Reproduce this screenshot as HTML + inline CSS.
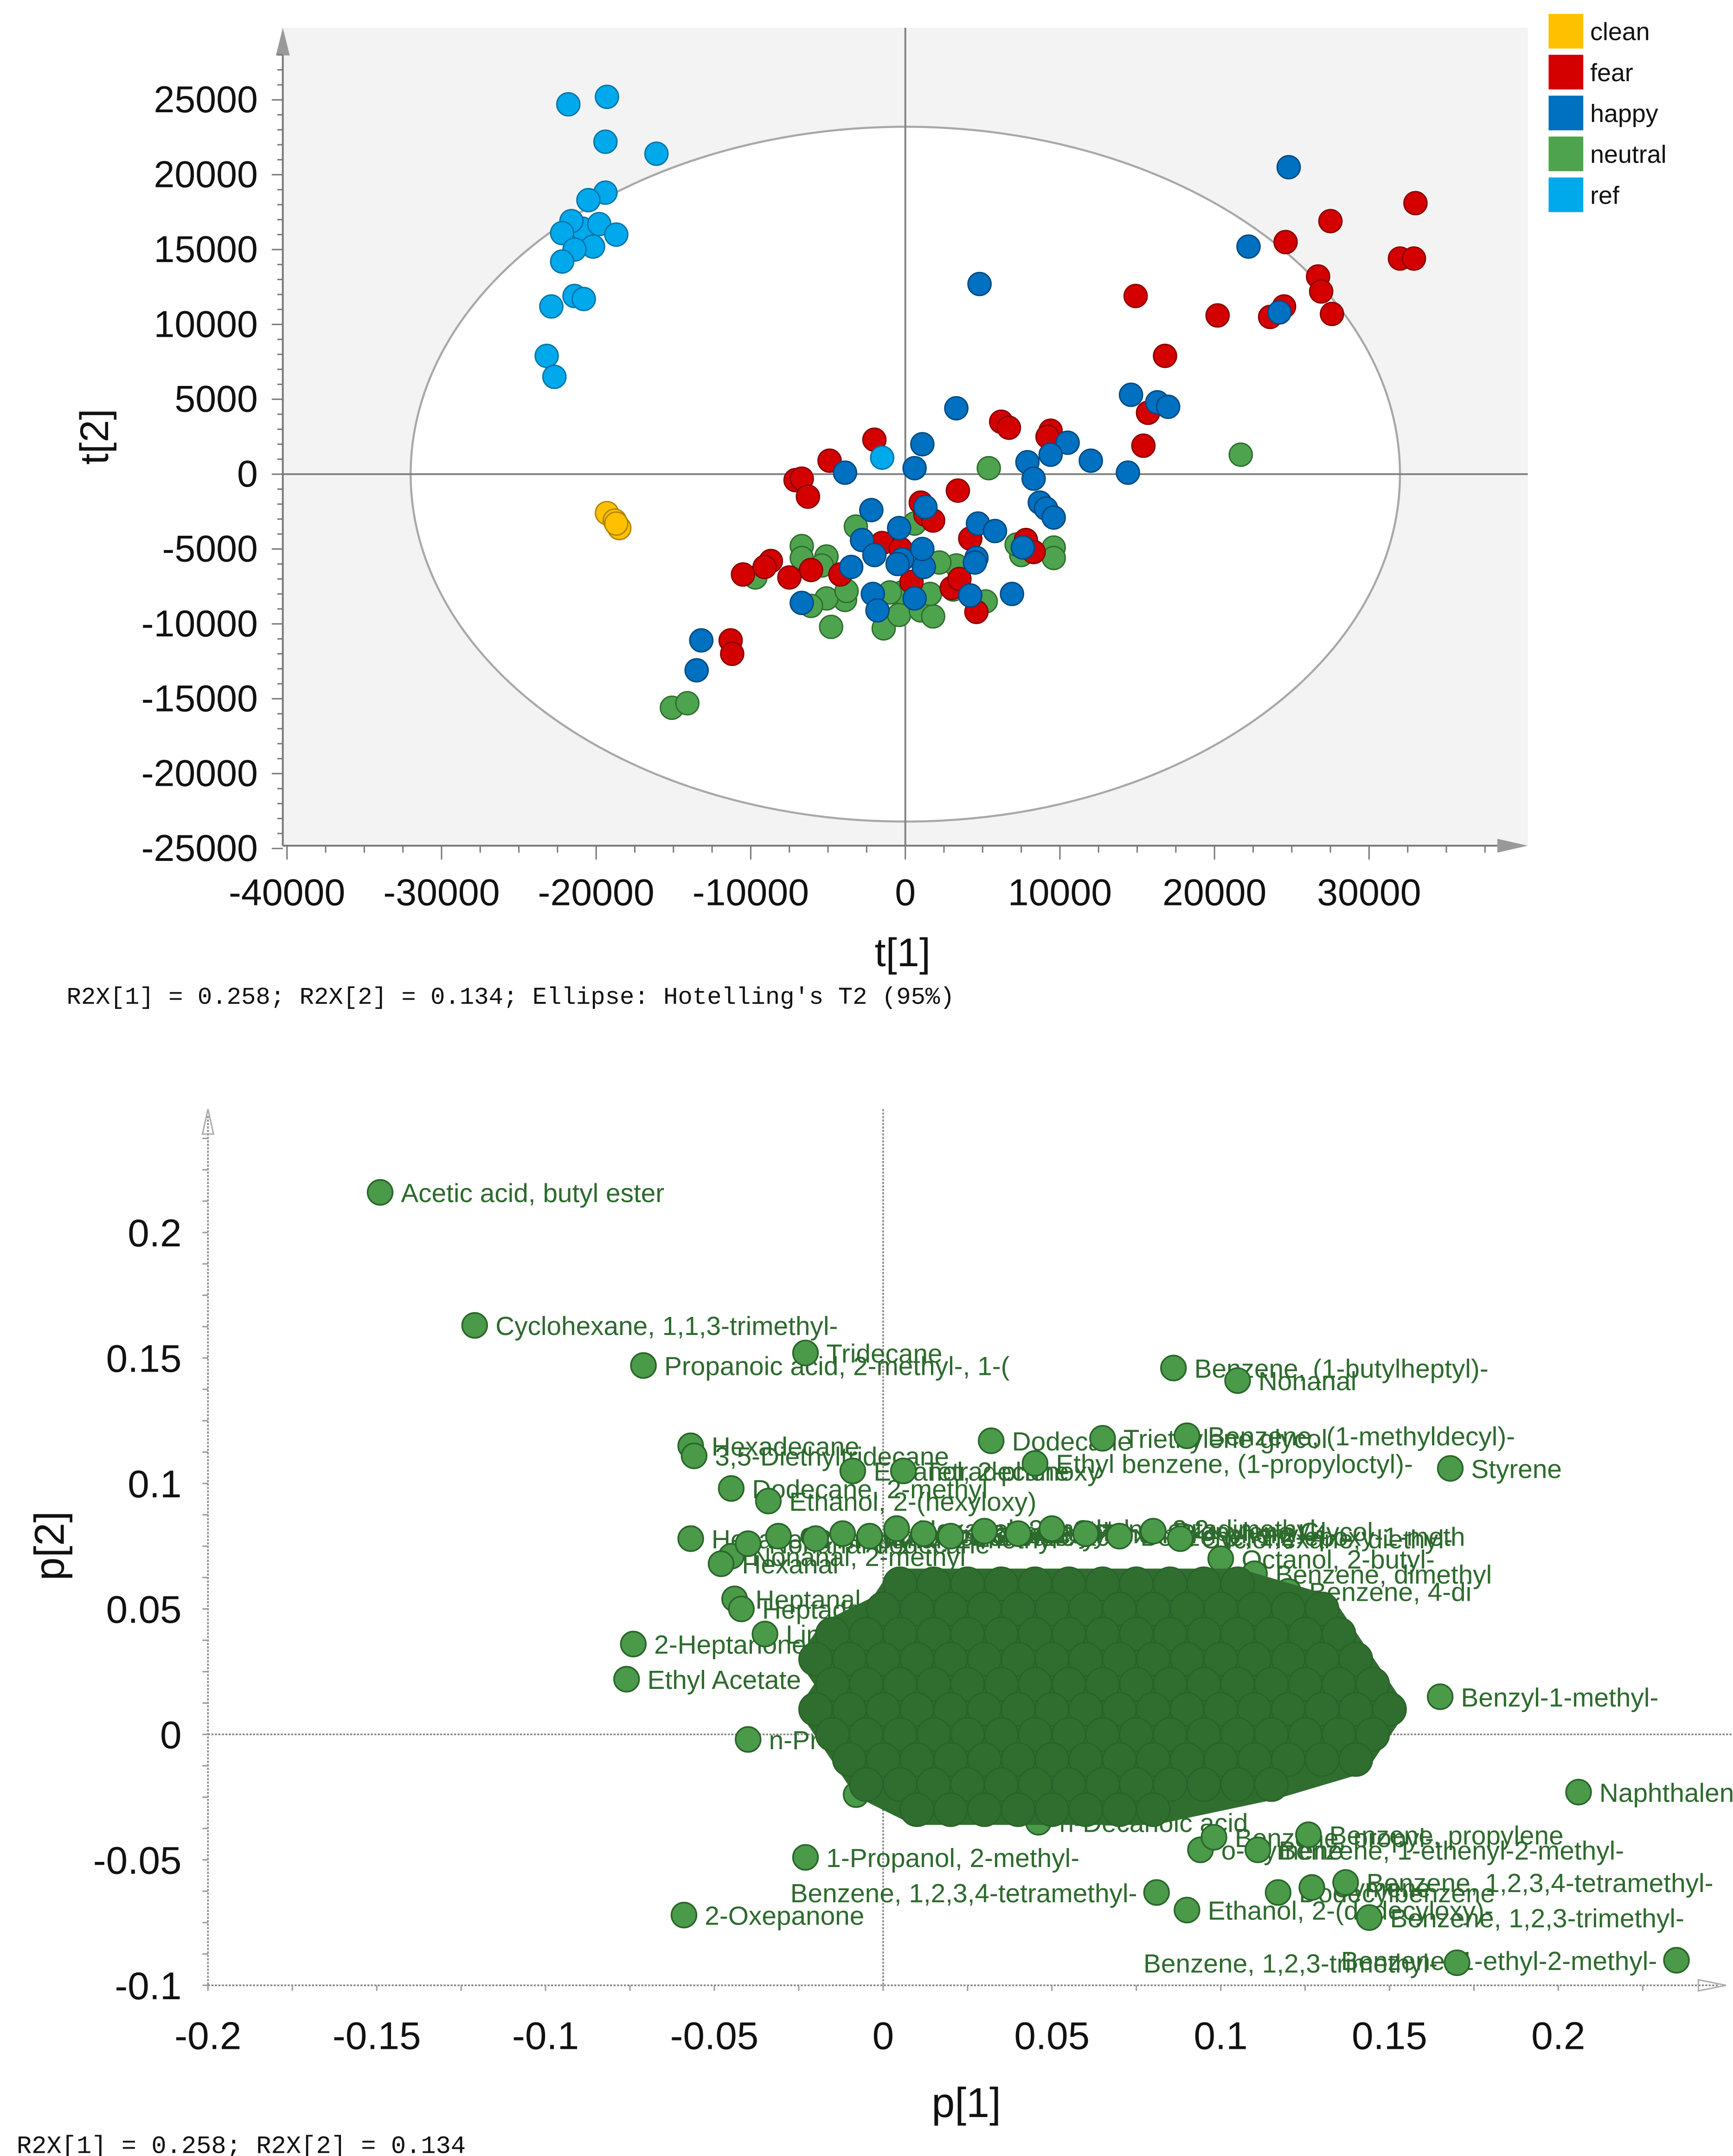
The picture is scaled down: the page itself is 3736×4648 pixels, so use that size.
<!DOCTYPE html>
<html><head><meta charset="utf-8"><style>
html,body{margin:0;padding:0;background:#fff}
svg{display:block}
text{font-family:"Liberation Sans",sans-serif}
.mono{font-family:"Liberation Mono",monospace}
</style></head><body>
<svg id="s" xmlns="http://www.w3.org/2000/svg" width="3736" height="4648" viewBox="0 0 1250 1555.1" preserveAspectRatio="none">
<g id="top"></g>
<g id="bot"></g>
</svg>
<script>
// ---------- Score plot data ----------
const groups = ["clean","fear","happy","neutral","ref"];
const groupColors = ["#ffc000","#d40000","#0070c0","#4ea44e","#00a8ec"];
const groupStroke = ["#b08400","#8a0000","#004a80","#2e6e2e","#0075a8"];
const cleanX=[-19300,-18800,-18500,-18700];
const cleanY=[-2600,-3100,-3600,-3300];
const refX=[-21800,-19300,-19400,-16100,-19400,-20500,-20900,-19800,-21600,-22200,-18700,-20200,-21400,-22200,-21400,-20800,-22900,-23200,-22700,-1500];
const refY=[24700,25200,22200,21400,18800,18300,16400,16700,16900,16100,16000,15200,15000,14200,11900,11700,11200,7900,6500,1100];
const fearX=[33000,27500,24600,32000,32900,26700,26900,24500,27600,23600,20200,14900,16800,15700,15400,6200,6700,9400,-2000,-4900,-7100,-6700,-6300,1000,3400,1300,1800,-1500,-300,4200,7800,8300,-6100,-8700,-9100,-10500,-7500,-4200,400,3000,3500,4600,-11300,-11200,9200];
const fearY=[18100,16900,15500,14400,14400,13200,12200,11200,10700,10500,10600,11900,7900,4100,1900,3500,3100,2900,2300,900,-400,-300,-1500,-1900,-1100,-2700,-3100,-4600,-5000,-4300,-4400,-5200,-6400,-5800,-6200,-6700,-6900,-6700,-7200,-7600,-7000,-9200,-11100,-12000,2500];
const happyX=[24800,22200,4800,24200,3300,14600,16300,17000,1100,10500,12000,14400,7900,9400,8300,-3900,600,-2200,1300,-400,-2800,8700,9100,9600,7600,4700,5800,4600,1200,-200,-2000,-3500,-2100,-1800,600,4200,6900,-6700,-13200,-13500,-500,1100,4500];
const happyY=[20500,15200,12700,10800,4400,5300,4800,4500,2000,2100,900,100,800,1300,-300,100,400,-2400,-2200,-3600,-4400,-1900,-2300,-2900,-4900,-3300,-3800,-5600,-6200,-5700,-5400,-6200,-8000,-9100,-8300,-8100,-8000,-8600,-11100,-13100,-6000,-5000,-5900];
const neutralX=[21700,5400,-6700,-6700,-9700,-5100,-5400,-3200,600,3300,3100,2200,-3900,-5100,-6100,-3800,-4800,-1400,-400,1000,1800,5200,7500,9600,9600,-15100,-14100,-200,1600,-1000,7200];
const neutralY=[1300,400,-4800,-5600,-6900,-5500,-6100,-3500,-3300,-6100,-7700,-5900,-8400,-8300,-8800,-7800,-10200,-10300,-9400,-9100,-9500,-8500,-5400,-4900,-5600,-15600,-15300,-7900,-8000,-7900,-4700];
const xTicks=[-40000,-30000,-20000,-10000,0,10000,20000,30000];
const yTicks=[25000,20000,15000,10000,5000,0,-5000,-10000,-15000,-20000,-25000];
const footTop="R2X[1] = 0.258; R2X[2] = 0.134; Ellipse: Hotelling's T2 (95%)";
const ellipseRx=32000, ellipseRy=23200;

// ---------- Loading plot data ----------
const loadX=[-0.149,-0.121,-0.023,-0.071,0.086,0.105,0.032,0.065,0.090,-0.057,-0.056,-0.009,0.006,0.045,0.168,-0.045,-0.034,-0.057,-0.045,-0.044,-0.074,-0.076,-0.040,-0.023,-0.059,0.206,0.235,0.170,0.094,0.098,0.111,0.126,0.081,0.090,0.117,0.127,0.137,0.144,0.046,0.030,-0.008,0.165,-0.040,-0.031,-0.020,-0.012,-0.004,0.004,0.012,0.020,0.030,0.040,0.050,0.060,0.070,0.080,0.088,0.100,0.110,0.120,-0.042,-0.035,-0.048];
const loadY=[0.216,0.163,0.152,0.147,0.146,0.141,0.117,0.118,0.119,0.115,0.111,0.105,0.105,0.108,0.106,0.098,0.093,0.078,0.071,0.054,0.036,0.022,-0.002,-0.049,-0.072,-0.023,-0.090,-0.091,-0.046,-0.041,-0.046,-0.040,-0.063,-0.070,-0.063,-0.061,-0.059,-0.073,-0.035,-0.029,-0.024,0.015,0.076,0.079,0.078,0.080,0.079,0.082,0.080,0.079,0.081,0.080,0.082,0.080,0.079,0.081,0.078,0.070,0.064,0.057,0.050,0.040,0.068];
const loadLabels=["Acetic acid, butyl ester","Cyclohexane, 1,1,3-trimethyl-","Tridecane","Propanoic acid, 2-methyl-, 1-(","Benzene, (1-butylheptyl)-","Nonanal","Dodecane","Triethylene glycol","Benzene, (1-methyldecyl)-","Hexadecane","3,5-Diethyltridecane","Ethanol, 2-phenoxy","Tetradecane","Ethyl benzene, (1-propyloctyl)-","Styrene","Dodecane, 2-methyl","Ethanol, 2-(hexyloxy)","Hexane, 2-methyl","Nonanal, 2-methyl","Heptanal","2-Heptanone","Ethyl Acetate","n-Propyl acetate","1-Propanol, 2-methyl-","2-Oxepanone","Naphthalene","Benzene, 1-ethyl-2-methyl-","Benzene, 1,2,3-trimethyl-","o-Cymene","Benzene, propyl-","Benzene, 1-ethenyl-2-methyl-","Benzene, propylene","Benzene, 1,2,3,4-tetramethyl-","Ethanol, 2-(dodecyloxy)-","Dodecylbenzene","Cymene","Benzene, 1,2,3,4-tetramethyl-","Benzene, 1,2,3-trimethyl-","n-Decanoic acid","Methyl ester","Isopropyl alcohol","Benzyl-1-methyl-","Nonanal dodecane","Octanol","Propanal, 2-methyl","Decane, 2,3-dimethyl","Ethanol, 2-butoxy","Hexanol, 3-methyl-, aceta","Undecane","Butanoic acid","Pentanol","Ethyl hexanol","Octane, 2,2-dimethyl-","Phenol, 4-phenyl-4-","Benzene, 1,2-epoxy-1-meth","Propylene Glycol","Cyclohexane, diethyl-","Octanol, 2-butyl-","Benzene, dimethyl","Benzene, 4-di","Heptadecane","Limonene","Hexanal"];
const labelLeft=[26,27,32];  // indices whose label sits left of the point
const blobRowY=[0.06,0.05,0.04,0.03,0.02,0.01,0.0,-0.01,-0.02,-0.03];
const blobRowX=[
 [0.005,0.015,0.025,0.035,0.045,0.055,0.065,0.075,0.085,0.095,0.105],
 [0.0,0.01,0.02,0.03,0.04,0.05,0.06,0.07,0.08,0.09,0.10,0.11,0.12,0.13],
 [-0.015,-0.005,0.005,0.015,0.025,0.035,0.045,0.055,0.065,0.075,0.085,0.095,0.105,0.115,0.125,0.135],
 [-0.02,-0.01,0.0,0.01,0.02,0.03,0.04,0.05,0.06,0.07,0.08,0.09,0.10,0.11,0.12,0.13,0.14],
 [-0.015,-0.005,0.005,0.015,0.025,0.035,0.045,0.055,0.065,0.075,0.085,0.095,0.105,0.115,0.125,0.135,0.145],
 [-0.02,-0.01,0.0,0.01,0.02,0.03,0.04,0.05,0.06,0.07,0.08,0.09,0.10,0.11,0.12,0.13,0.14,0.15],
 [-0.015,-0.005,0.005,0.015,0.025,0.035,0.045,0.055,0.065,0.075,0.085,0.095,0.105,0.115,0.125,0.135,0.145],
 [-0.01,0.0,0.01,0.02,0.03,0.04,0.05,0.06,0.07,0.08,0.09,0.10,0.11,0.12,0.13,0.14],
 [-0.005,0.005,0.015,0.025,0.035,0.045,0.055,0.065,0.075,0.085,0.095,0.105,0.115],
 [0.01,0.02,0.03,0.04,0.05,0.06,0.07,0.08]
];
const pxTicks=[-0.2,-0.15,-0.1,-0.05,0,0.05,0.1,0.15,0.2];
const pyTicks=[0.2,0.15,0.1,0.05,0,-0.05,-0.1];
const footBot="R2X[1] = 0.258; R2X[2] = 0.134";

const NS="http://www.w3.org/2000/svg";
function mk(parent,tag,attrs,txt){const e=document.createElementNS(NS,tag);for(const k in attrs)e.setAttribute(k,attrs[k]);if(txt!==undefined)e.textContent=txt;parent.appendChild(e);return e;}

// ===== Top score plot =====
const T=document.getElementById('top');
const sx=v=>653+v*(111.5/10000);
const sy=v=>342-v*(54/5000);
let e;
e=mk(T,'rect',{x:203,y:20,width:899,height:590,fill:'#f3f3f3'});


e=mk(T,'ellipse',{cx:sx(0),cy:sy(0),rx:sx(ellipseRx)-sx(0),ry:sy(0)-sy(ellipseRy),fill:'#fff',stroke:'#a8a8a8','stroke-width':1.5});


mk(T,'line',{x1:sx(0),y1:20,x2:sx(0),y2:610,stroke:'#808080','stroke-width':1.3});
mk(T,'line',{x1:203,y1:sy(0),x2:1102,y2:sy(0),stroke:'#808080','stroke-width':1.3});
e=mk(T,'line',{x1:204,y1:28,x2:204,y2:610,stroke:'#777','stroke-width':1.3});


mk(T,'polygon',{points:'199,40 204,20 209,40',fill:'#999'});
e=mk(T,'line',{x1:204,y1:610,x2:1092,y2:610,stroke:'#777','stroke-width':1.3});


mk(T,'polygon',{points:'1080,605 1102,610 1080,615',fill:'#999'});
for(let v=-25000;v<=28000;v+=1000){const y=sy(v);mk(T,'line',{x1:v%5000===0?196:200,y1:y,x2:204,y2:y,stroke:'#777','stroke-width':1});}
for(let v=-40000;v<=38000;v+=2500){const x=sx(v);mk(T,'line',{x1:x,y1:610,x2:x,y2:v%10000===0?620:615,stroke:'#777','stroke-width':1});}
yTicks.forEach(v=>{e=mk(T,'text',{x:186,y:sy(v)+9,'text-anchor':'end','font-size':27,fill:'#111'},String(v));

});
xTicks.forEach(v=>{e=mk(T,'text',{x:sx(v),y:653,'text-anchor':'middle','font-size':27,fill:'#111'},String(v));

});
e=mk(T,'text',{x:0,y:0,transform:'translate(78,315) rotate(-90)','text-anchor':'middle','font-size':29,fill:'#111'},'t[2]');


e=mk(T,'text',{x:651,y:697,'text-anchor':'middle','font-size':29,fill:'#111'},'t[1]');


e=mk(T,'text',{x:48,y:724,'font-size':17.5,fill:'#111',class:'mono'},footTop);


const gx=[cleanX,fearX,happyX,neutralX,refX], gy=[cleanY,fearY,happyY,neutralY,refY];
[3,1,2,4,0].forEach(g=>{gx[g].forEach((v,i)=>{
 e=mk(T,'circle',{cx:sx(v),cy:sy(gy[g][i]),r:8.3,fill:groupColors[g],stroke:groupStroke[g],'stroke-width':1});
 
 
});});
groups.forEach((g,i)=>{
 const y=10+i*29.5;
 e=mk(T,'rect',{x:1117,y:y,width:25,height:25,fill:groupColors[i]});
 
 
 e=mk(T,'text',{x:1147,y:y+19,'font-size':18,fill:'#111'},g);
 
 
});

// ===== Bottom loading plot =====
const B=document.getElementById('bot');
const px=v=>637+v*2435;
const py=v=>1251-v*1810;
e=mk(B,'line',{x1:150,y1:805,x2:150,y2:1432,stroke:'#888','stroke-width':1.2,'stroke-dasharray':'1.5,1'});


mk(B,'polygon',{points:'146,818 150,800 154,818',fill:'none',stroke:'#aaa','stroke-width':1});
e=mk(B,'line',{x1:150,y1:1432,x2:1240,y2:1432,stroke:'#888','stroke-width':1.2,'stroke-dasharray':'1.5,1'});


mk(B,'polygon',{points:'1225,1428 1245,1432 1225,1436',fill:'none',stroke:'#aaa','stroke-width':1});
mk(B,'line',{x1:px(0),y1:800,x2:px(0),y2:1432,stroke:'#888','stroke-width':1.2,'stroke-dasharray':'1.5,1'});
mk(B,'line',{x1:150,y1:py(0),x2:1250,y2:py(0),stroke:'#888','stroke-width':1.2,'stroke-dasharray':'1.5,1'});
for(let v=-0.1;v<=0.24;v+=0.0125){const y=py(v);mk(B,'line',{x1:146,y1:y,x2:150,y2:y,stroke:'#999','stroke-width':1});}
for(let v=-0.2;v<=0.245;v+=0.025){const x=px(v);mk(B,'line',{x1:x,y1:1432,x2:x,y2:1436,stroke:'#999','stroke-width':1});}
pyTicks.forEach(v=>{e=mk(B,'text',{x:131,y:py(v)+10,'text-anchor':'end','font-size':28,fill:'#111'},String(v));

});
pxTicks.forEach(v=>{e=mk(B,'text',{x:px(v),y:1478,'text-anchor':'middle','font-size':28,fill:'#111'},String(v));

});
e=mk(B,'text',{x:0,y:0,transform:'translate(46,1115) rotate(-90)','text-anchor':'middle','font-size':30,fill:'#111'},'p[2]');


e=mk(B,'text',{x:697,y:1527,'text-anchor':'middle','font-size':30,fill:'#111'},'p[1]');


e=mk(B,'text',{x:12,y:1553,'font-size':18,fill:'#111',class:'mono'},footBot);


loadX.forEach((v,i)=>{
 const left=labelLeft.indexOf(i)>=0;
 e=mk(B,'text',{x:left?px(v)-14:px(v)+15,y:py(loadY[i])+7,'text-anchor':left?'end':'start','font-size':19,fill:'#2d6a2d'},loadLabels[i]);
 
 
});
loadX.forEach((v,i)=>{
 e=mk(B,'circle',{cx:px(v),cy:py(loadY[i]),r:9,fill:'#4a9a4a',stroke:'#2a662a','stroke-width':1.2});
 
 
});
// dense overlap underlay, outline derived from blob rows
const leftPts=[], rightPts=[];
blobRowY.forEach((yv,r)=>{const xs=blobRowX[r];
 leftPts.push(px(Math.min(...xs))+' '+py(yv));
 rightPts.push(px(Math.max(...xs))+' '+py(yv));});
e=mk(B,'polygon',{points:rightPts.concat(leftPts.reverse()).join(' '),fill:'#306e30',stroke:'#306e30','stroke-width':22,'stroke-linejoin':'round'});


blobRowY.forEach((yv,r)=>{blobRowX[r].forEach(xv=>{
 e=mk(B,'circle',{cx:px(xv),cy:py(yv),r:12,fill:'#306e30',stroke:'#2a632a','stroke-width':1});
 
 
});});
</script>
</body></html>
